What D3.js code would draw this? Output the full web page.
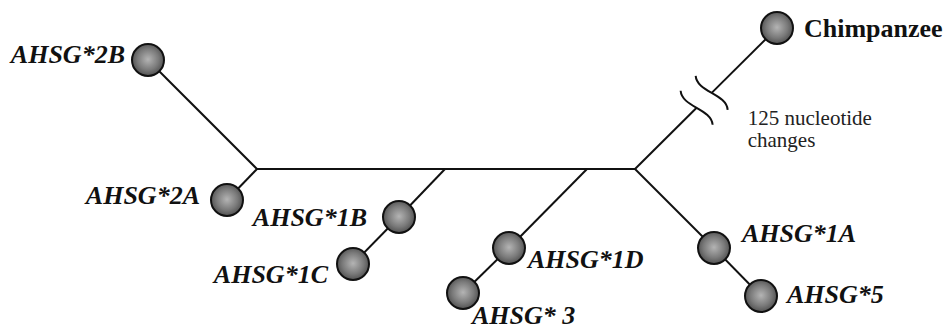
<!DOCTYPE html>
<html>
<head>
<meta charset="utf-8">
<script src="https://cdn.jsdelivr.net/npm/d3@7"></script>
<style>
  html, body { margin: 0; padding: 0; background: #fff; }
  svg { display: block; }
</style>
</head>
<body>
<svg id="chart" width="946" height="331"></svg>
<script>
// ---- data (layout units of the haplotype network) ----
const nodeIds    = ["J1", "B1", "B2", "J2", "2B", "2A", "1B", "1C", "1D", "3", "1A", "5", "Chimp"];
const nodeX      = [25.7, 44.5, 58.7, 63.5, 14.8, 22.7, 39.9, 35.3, 50.9, 46.3, 71.4, 76.1, 77.7];
const nodeY      = [16.9, 16.9, 16.9, 16.9, 6.0, 20.0, 21.7, 26.4, 24.8, 29.3, 24.8, 29.6, 2.8];
const nodeLabels = ["", "", "", "", "AHSG*2B", "AHSG*2A", "AHSG*1B", "AHSG*1C", "AHSG*1D", "AHSG* 3", "AHSG*1A", "AHSG*5", "Chimpanzee"];
const haplotypes = ["2B", "2A", "1B", "1C", "1D", "3", "1A", "5", "Chimp"];
const edgeFrom   = ["J1", "J1", "J1", "B1", "B2", "B1", "1B", "B2", "1D", "J2", "1A", "J2"];
const edgeTo     = ["2B", "2A", "B1", "B2", "J2", "1B", "1C", "1D", "3", "1A", "5", "Chimp"];
const brokenEdge = ["J2", "Chimp"];
const breakAt    = [0.434, 0.54];
const noteLines  = ["125 nucleotide", "changes"];

// ---- layout / style ----
const W = 946, H = 331;
const x = d3.scaleLinear().domain([0, 94.6]).range([0, W]);
const y = d3.scaleLinear().domain([0, 33.1]).range([0, H]);
const R = 16;
const labelPos = {
  "2B": {dx: -23, dy: 3, anchor: "end"},
  "2A": {dx: -27, dy: 4, anchor: "end"},
  "1B": {dx: -32, dy: 9, anchor: "end"},
  "1C": {dx: -25, dy: 19, anchor: "end"},
  "1D": {dx: 19, dy: 20, anchor: "start"},
  "3":  {dx: 9, dy: 31, anchor: "start"},
  "1A": {dx: 28, dy: -6, anchor: "start"},
  "5":  {dx: 26, dy: 7, anchor: "start"},
  "Chimp": {dx: 27, dy: 9, anchor: "start"}
};

const nodes = {};
nodeIds.forEach((id, i) => nodes[id] = {id, x: nodeX[i], y: nodeY[i], label: nodeLabels[i]});

const svg = d3.select("#chart");
const defs = svg.append("defs");
const grad = defs.append("radialGradient").attr("id", "ball")
  .attr("cx", "50%").attr("cy", "48%").attr("r", "55%");
grad.append("stop").attr("offset", "0%").attr("stop-color", "#b4b4b4");
grad.append("stop").attr("offset", "60%").attr("stop-color", "#7a7a7a");
grad.append("stop").attr("offset", "100%").attr("stop-color", "#4a4a4a");

const lineColor = "#111";
const edges = edgeFrom.map((f, i) => ({a: nodes[f], b: nodes[edgeTo[i]]}));

const gEdges = svg.append("g");
edges.forEach(e => {
  const isBroken = e.a.id === brokenEdge[0] && e.b.id === brokenEdge[1];
  const x1 = x(e.a.x), y1 = y(e.a.y), x2 = x(e.b.x), y2 = y(e.b.y);
  if (!isBroken) {
    gEdges.append("line").attr("x1", x1).attr("y1", y1).attr("x2", x2).attr("y2", y2)
      .attr("stroke", lineColor).attr("stroke-width", 2);
  } else {
    const p = t => [x1 + (x2 - x1) * t, y1 + (y2 - y1) * t];
    const c0 = p(breakAt[0]), c1 = p(breakAt[1]);
    gEdges.append("line").attr("x1", x1).attr("y1", y1).attr("x2", c0[0]).attr("y2", c0[1])
      .attr("stroke", lineColor).attr("stroke-width", 2);
    gEdges.append("line").attr("x1", c1[0]).attr("y1", c1[1]).attr("x2", x2).attr("y2", y2)
      .attr("stroke", lineColor).attr("stroke-width", 2);
    [c0, c1].forEach(c => {
      const path = d3.path();
      path.moveTo(c[0] - 16, c[1] - 17);
      path.bezierCurveTo(c[0] - 15, c[1] - 1, c[0] + 15, c[1] + 1, c[0] + 16, c[1] + 17);
      gEdges.append("path").attr("d", path.toString()).attr("fill", "none")
        .attr("stroke", lineColor).attr("stroke-width", 2);
    });
    // note text
    const t = svg.append("text")
      .attr("x", c1[0] + 36).attr("y", c1[1] + 32)
      .attr("font-family", "'Liberation Serif', 'Times New Roman', serif")
      .attr("font-size", 21).attr("fill", "#222");
    noteLines.forEach((ln, i) => t.append("tspan").attr("x", c1[0] + 36).attr("dy", i === 0 ? 0 : 22).text(ln));
  }
});

const gNodes = svg.append("g");
haplotypes.forEach(id => {
  const n = nodes[id];
  gNodes.append("circle").attr("cx", x(n.x)).attr("cy", y(n.y)).attr("r", R)
    .attr("fill", "url(#ball)").attr("stroke", "#111").attr("stroke-width", 2);
  const lp = labelPos[id];
  gNodes.append("text")
    .attr("x", x(n.x) + lp.dx).attr("y", y(n.y) + lp.dy)
    .attr("text-anchor", lp.anchor)
    .attr("font-family", "'Liberation Serif', 'Times New Roman', serif")
    .attr("font-size", 26)
    .attr("font-weight", "bold")
    .attr("font-style", id === "Chimp" ? "normal" : "italic")
    .attr("fill", "#111")
    .text(n.label);
});
</script>
</body>
</html>
